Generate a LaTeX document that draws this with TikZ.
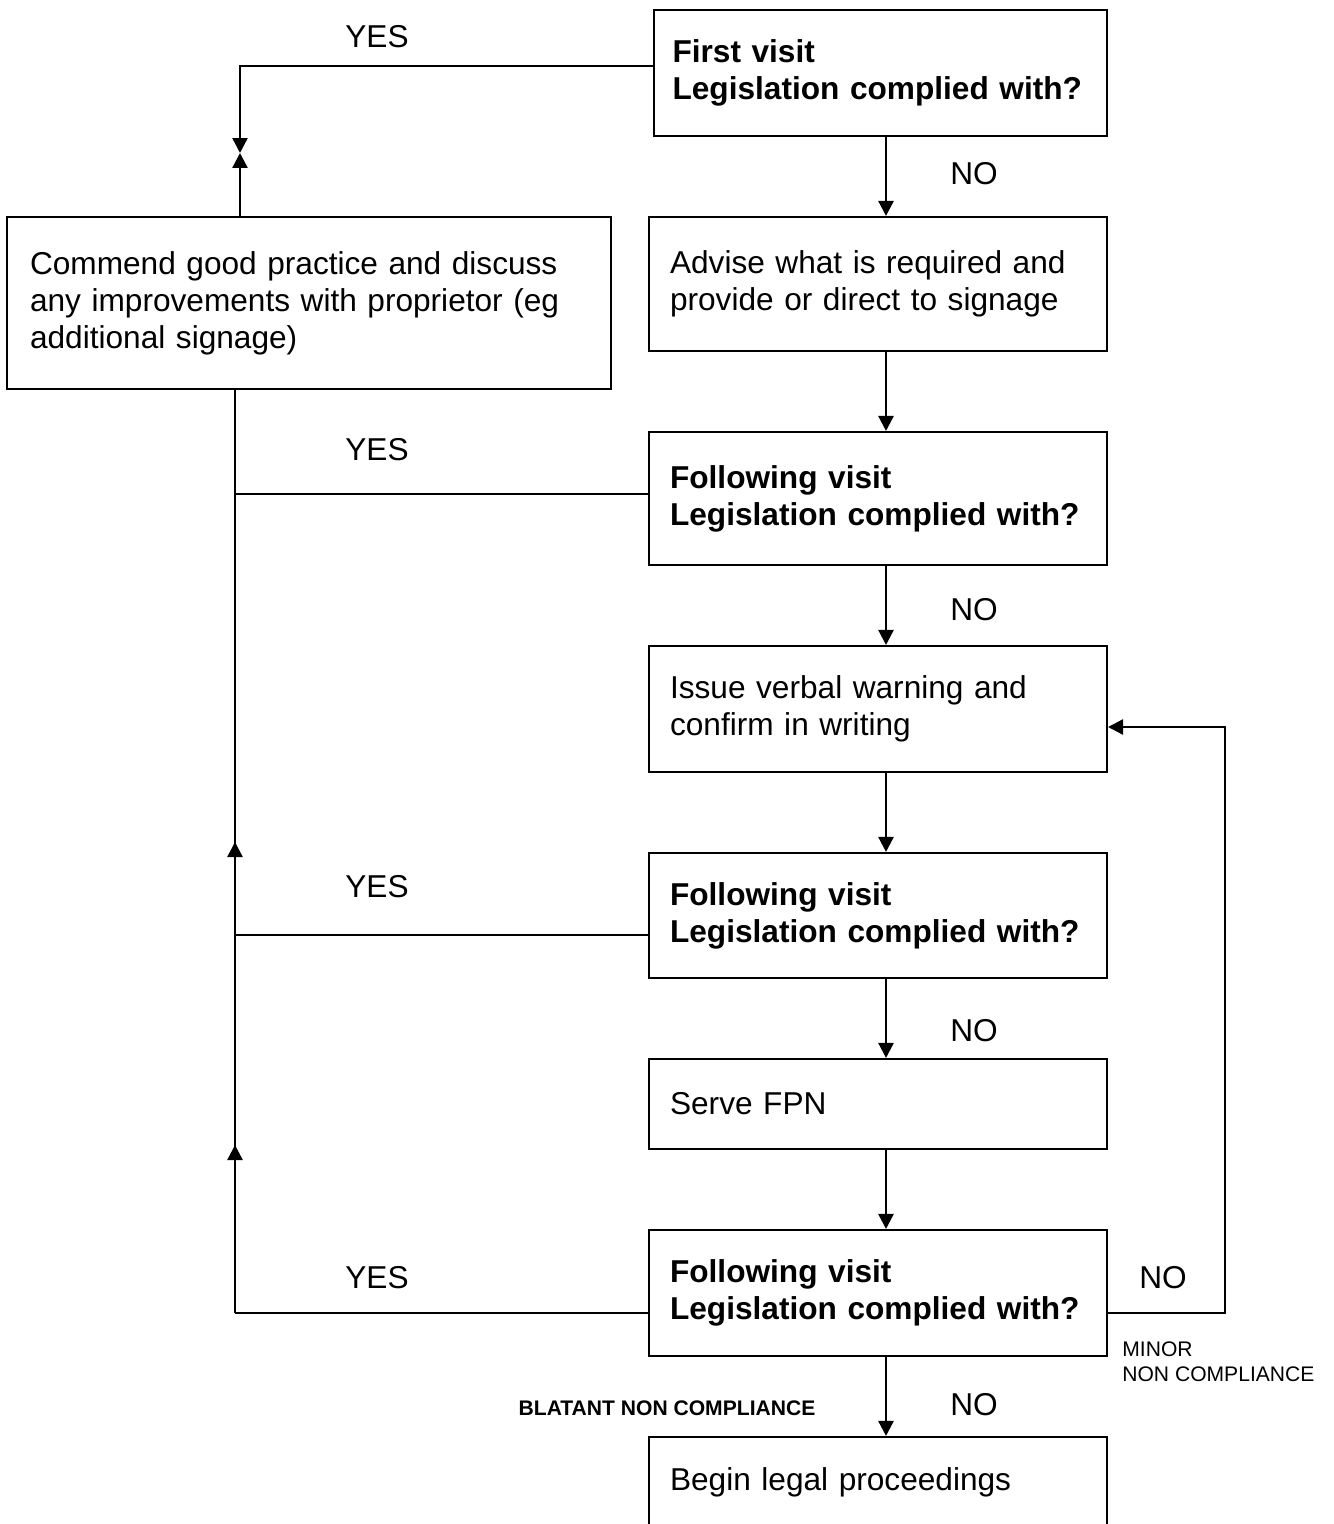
\documentclass[tikz,border=0pt]{standalone}
\usepackage{fontspec}
\setmainfont{Liberation Sans}
\usetikzlibrary{arrows.meta}
\tikzset{
  box/.style={draw, line width=1.2pt, align=left, text width=8.32cm, inner xsep=0.42cm, inner ysep=0pt},
  small/.style={font=\fontsize{12}{14.2}\selectfont, inner sep=0pt},
  wire/.style={line width=1.4pt},
  arr/.style={line width=1.4pt, -{Triangle[length=0.3cm,width=0.3cm]}},
}
\begin{document}
\begin{tikzpicture}[x=0.02cm, y=-0.02cm, font=\fontsize{18}{21}\selectfont]
				\useasboundingbox (0,0) rectangle (1333,1524);
				\node[box, inner xsep=0.37cm, minimum height=2.52cm] (v1) at (880.5,73) {\textbf{First visit}\\\textbf{Legislation complied with?}};
				\node[box, minimum height=2.68cm] (adv) at (878,284) {Advise what is required and\\provide or direct to signage};
				\node[box, minimum height=2.66cm] (v2) at (878,498.5) {\textbf{Following visit}\\\textbf{Legislation complied with?}};
				\node[box, minimum height=2.52cm] (warn) at (878,709) {Issue verbal warning and\\confirm in writing};
				\node[box, minimum height=2.5cm] (v3) at (878,915.5) {\textbf{Following visit}\\\textbf{Legislation complied with?}};
				\node[box, minimum height=1.8cm] (fpn) at (878,1104) {Serve FPN};
				\node[box, minimum height=2.52cm] (v4) at (878,1293) {\textbf{Following visit}\\\textbf{Legislation complied with?}};
				\node[box, minimum height=1.8cm] (legal) at (878,1482) {Begin legal proceedings};
				\node[box, text width=11.16cm, inner xsep=0.46cm, minimum height=3.44cm] (good) at (309,303) {Commend good practice and discuss\\any improvements with proprietor (eg\\additional signage)};
				% \node (good2) at (309,420) {};
				\node (yes1) at (377,37) {YES};
				\node (yes2) at (377,450) {YES};
				\node (yes3) at (377,887) {YES};
				\node (yes4) at (377,1278) {YES};
				\node (no1) at (974,174) {NO};
				\node (no2) at (974,610) {NO};
				\node (no3) at (974,1031) {NO};
				\node (no4) at (1163,1278) {NO};
				\node (no5) at (974,1405) {NO};
				\node[small, align=left, anchor=west] (minor) at (1122,1362) {MINOR\\NON COMPLIANCE};
				\node[small] (blatant) at (667,1408) {\bfseries BLATANT NON COMPLIANCE};
				\coordinate (mid) at (886,0);
				\coordinate (top) at (240,66);
				\coordinate (meet) at (240,153);
				\coordinate (r2) at (235,494);
				\coordinate (r3) at (235,935);
				\coordinate (r4) at (235,1313);
				\coordinate (up1) at (235,842);
				\coordinate (up2) at (235,1145);
				\coordinate (loop) at (1225,1313);
				\coordinate (back) at (1225,727);
				\draw[arr] (v1.south -| mid) -- (adv.north -| mid);
				\draw[arr] (adv.south -| mid) -- (v2.north -| mid);
				\draw[arr] (v2.south -| mid) -- (warn.north -| mid);
				\draw[arr] (warn.south -| mid) -- (v3.north -| mid);
				\draw[arr] (v3.south -| mid) -- (fpn.north -| mid);
				\draw[arr] (fpn.south -| mid) -- (v4.north -| mid);
				\draw[arr] (v4.south -| mid) -- (legal.north -| mid);
				\draw[arr] (v1.west |- top) -| (meet);
				\draw[arr] (good.north -| meet) -- (meet);
				\draw[wire] (good.south -| r2) -- (r4);
				\draw[wire] (v2.west |- r2) -- (r2);
				\draw[wire] (v3.west |- r3) -- (r3);
				\draw[wire] (v4.west |- r4) -- (r4);
				\draw[arr] (r4) -- (up2);
				\draw[arr] (up2) -- (up1);
				\draw[arr] (v4.east |- loop) -- (loop) |- (warn.east |- back);
\end{tikzpicture}
\end{document}
